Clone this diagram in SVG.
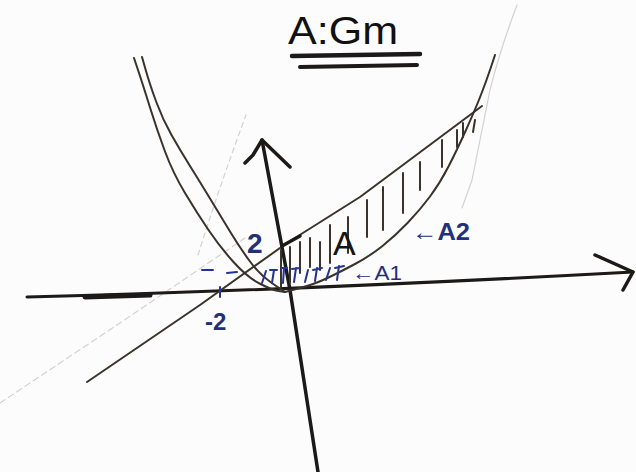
<svg xmlns="http://www.w3.org/2000/svg" width="636" height="472" viewBox="0 0 636 472">
<style>
.ink{fill:none;stroke:#1c1a18;stroke-linecap:round;stroke-linejoin:round}
.curve{fill:none;stroke:#3a332c;stroke-width:2;stroke-linecap:round;stroke-linejoin:round}
.faint{fill:none;stroke:#d2d2d2;stroke-width:1.2;stroke-linecap:round}
.blue{fill:none;stroke:#24338f;stroke-width:2;stroke-linecap:round;stroke-linejoin:round}
.hatch{fill:none;stroke:#3a332c;stroke-width:2;stroke-linecap:round}
.lbl{font-family:"Liberation Sans","DejaVu Sans",sans-serif}
.navy{fill:#22307a}
</style>
<rect width="636" height="472" fill="#fcfcfc"/>
<g id="faint-marks">
<path class="faint" d="M0 403 L120 323 L245 238" stroke-dasharray="6 4"/>
<path class="faint" d="M517 5 Q500 50 490 90 Q480 140 472 180 L462 208"/>
<path class="faint" d="M198 255 Q220 185 246 115" stroke-dasharray="5 4"/>
</g>
<g id="title">
<text class="lbl" x="288" y="44" font-size="38" fill="#111" textLength="110" lengthAdjust="spacingAndGlyphs">A:Gm</text>
<path class="ink" stroke-width="4.5" d="M292 56 L420 54"/>
<path class="ink" stroke-width="4" d="M300 67 L417 65"/>
</g>
<g id="axes">
<path class="ink" stroke-width="3" d="M27 297 Q300 290 633 272"/>
<path class="ink" stroke-width="5" d="M85 297 L150 295"/>
<path class="ink" stroke-width="3.5" d="M595 255 L633 272 L623 290"/>
<path class="ink" stroke-width="3.5" d="M318 472 L290 290 L262 140"/>
<path class="ink" stroke-width="3.5" d="M245 163 L253 155 L262 140 L290 167"/>
</g>
<g id="curves">
<path class="curve" d="M134 58 L138.5 71.5 Q143 85 150 107.5 Q157 130 165 151.5 Q173 173 185 193 Q197 213 208.5 230 Q220 247 233.5 262 Q247 277 259.5 283.5 Q272 290 278.5 291 L285 292"/>
<path class="curve" d="M142 57 L146 71 Q150 85 156.5 102.5 Q163 120 171.5 135 Q180 150 190 166 Q200 182 210 198.5 Q220 215 230 231.5 Q240 248 250 261.5 Q260 275 272.5 283.5 L285 292"/>
<path class="curve" d="M285 292 L292.5 290 Q300 288 308.5 285.5 Q317 283 328.5 277.5 Q340 272 355 264 Q370 256 382.5 246 Q395 236 407.5 223 Q420 210 430 196.5 Q440 183 448.5 166.5 Q457 150 466 130 Q475 110 480.5 96 Q486 82 490.5 68.5 L495 55"/>
<path class="curve" stroke-width="2.5" d="M87 382 L200 305 L287 243 L360 197 L482 106"/>
<path class="ink" stroke-width="3.5" d="M282 246 L300 236"/>
</g>
<g id="hatch-A">
<path class="hatch" d="M281 250 L281 287 M290 247 L290 283 M300 242 L300 273 M310 238 L310 267 M320 242 L320 270 M330 225 L330 263 M348 217 L348 253 M367 200 L367 237 M383 187 L383 230 M403 173 L403 213 M420 162 L420 190 M442 140 L442 167 M457 130 L457 147 M463 123 L463 137 M475 120 L473 132"/>
</g>
<g id="hatch-A1">
<path class="blue" d="M262 283 L266 271 M270 270 L277 270 M274 270 L272 283 M281 268 L287 268 M284 268 L283 283 M292 269 L300 268 M296 268 L294 282 M305 282 L308 270 M313 270 L322 268 M317 268 L315 281 M326 280 L330 268 M335 268 L344 266 M339 266 L337 280"/>
<path class="blue" d="M202 270 L213 270 M227 273 L237 272 M220 287 L220 297"/>
</g>
<g id="labels">
<text class="lbl navy" x="247" y="253" font-size="28" font-weight="bold">2</text>
<text class="lbl" x="333" y="255" font-size="34" fill="#151515">A</text>
<text class="lbl navy" x="412" y="240" font-size="24" font-weight="bold" textLength="58" lengthAdjust="spacingAndGlyphs">←A2</text>
<text class="lbl navy" x="352" y="280" font-size="20" textLength="50" lengthAdjust="spacingAndGlyphs">←A1</text>
<text class="lbl navy" x="205" y="330" font-size="24" font-weight="bold">-2</text>
</g>
</svg>
